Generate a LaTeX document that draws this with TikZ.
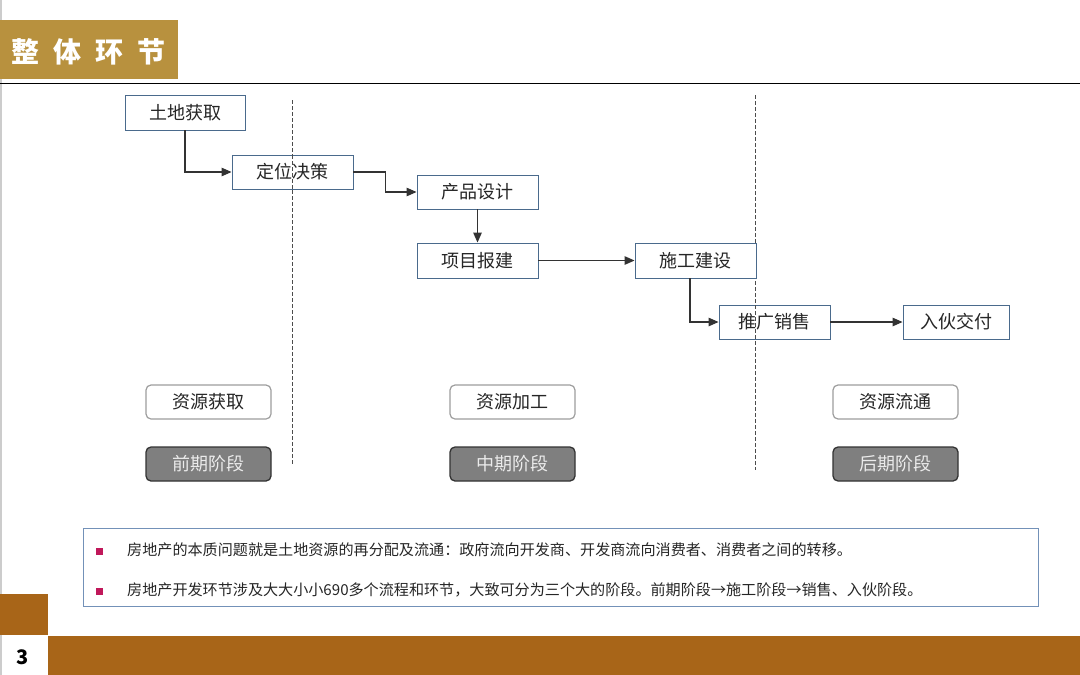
\documentclass[tikz,border=0pt]{standalone}
\usepackage{fontspec}
\setmainfont{Noto Sans CJK SC}
\usetikzlibrary{arrows.meta}
\definecolor{gold}{HTML}{B8913E}
\definecolor{brown}{HTML}{A86518}
\definecolor{boxline}{HTML}{4A6A8C}
\definecolor{txtbox}{HTML}{7391B8}
\definecolor{bullet}{HTML}{C0185A}
\definecolor{darkfill}{HTML}{7F7F7F}
\tikzset{
  flow/.style={draw=boxline, line width=0.9pt, fill=white, minimum height=34pt, inner sep=0pt, font=\fontsize{18}{20}\selectfont, text=black!85},
  res/.style={draw=black!38, line width=1.2pt, rounded corners=5pt, fill=white, minimum width=125pt, minimum height=34pt, inner sep=0pt, font=\fontsize{18}{20}\selectfont, text=black!85},
  stage/.style={draw=black!80, line width=1.3pt, rounded corners=5pt, fill=darkfill, minimum width=125pt, minimum height=34pt, inner sep=0pt, font=\fontsize{18}{20}\selectfont, text=black!8},
  conn/.style={draw=black!80, line width=1.2pt, -{Triangle[length=10pt,width=8.5pt]}},
  divider/.style={draw=black!70, line width=1pt, dash pattern=on 3.5pt off 2.5pt},
  bul/.style={fill=bullet, minimum size=7pt, inner sep=0pt},
  note/.style={anchor=west, inner sep=0pt, font=\fontsize{15.1}{17}\selectfont, text=black!85}
}
\begin{document}
\begin{tikzpicture}[x=1pt,y=-1pt]
\useasboundingbox (0,0) rectangle (1080,675);
\fill[white] (0,0) rectangle (1080,675);
\draw[black!20, line width=1.5pt] (0.75,0) -- (0.75,675);
% title
\fill[gold] (0,20) rectangle (178,79);
\node[text=white, font=\fontsize{28}{30}\selectfont\bfseries, inner sep=0pt] (title) at (89,52) {整\hspace{14pt}体\hspace{14pt}环\hspace{14pt}节};
\draw[black, line width=0.9pt] (0,83) -- (1080,83);
% dividers
\draw[divider] (292,100) -- (292,465);
\draw[divider] (755,95) -- (755,470);
% flow boxes
\node[flow, minimum width=120pt, minimum height=35pt] (td) at (185,112.5) {土地获取};
\node[flow, minimum width=121pt] (dw) at (292.5,172) {定位决策};
\node[flow, minimum width=121pt] (cp) at (477.5,192) {产品设计};
\node[flow, minimum width=121pt, minimum height=35pt] (xm) at (477.5,260.5) {项目报建};
\node[flow, minimum width=121pt, minimum height=35pt] (sg) at (695.5,260.5) {施工建设};
\node[flow, minimum width=111pt] (tg) at (774.5,322) {推广销售};
\node[flow, minimum width=106pt] (rh) at (956,322) {入伙交付};
% dashed dividers pass over boxes
\draw[divider] (292,155) -- (292,189);
\draw[divider] (755,305) -- (755,339);
% connectors
\draw[conn] (td.south) |- (dw.west);
\draw[conn] (dw.east) -- ++(32,0) |- (cp.west);
\draw[conn] (cp.south) -- (xm.north);
\draw[conn] (xm.east) -- (sg.west);
\draw[conn] ([xshift=-5.5pt]sg.south) |- (tg.west);
\draw[conn] (tg.east) -- (rh.west);
% resource / stage boxes
\node[res] (r1) at (208.5,402) {资源获取};
\node[res] (r2) at (512.5,402) {资源加工};
\node[res] (r3) at (895.5,402) {资源流通};
\node[stage] (s1) at (208.5,464) {前期阶段};
\node[stage] (s2) at (512.5,464) {中期阶段};
\node[stage] (s3) at (895.5,464) {后期阶段};
% note box
\draw[txtbox, line width=1pt] (83,528) rectangle (1038,606);
\node[bul] (b1) at (99.5,551) {};
\node[bul] (b2) at (99.5,591) {};
\node[note] (n1) at (127,550) {房地产的本质问题就是土地资源的再分配及流通：政府流向开发商、开发商流向消费者、消费者之间的转移。};
\node[note] (n2) at (127,590) {房地产开发环节涉及大大小小690多个流程和环节，大致可分为三个大的阶段。前期阶段→施工阶段→销售、入伙阶段。};
% footer
\fill[brown] (0,594) rectangle (48,635);
\fill[brown] (48,636) rectangle (1080,675);
\node[font=\fontsize{20}{22}\selectfont\bfseries, text=black, inner sep=0pt] (pg) at (23,657) {3};
\end{tikzpicture}
\end{document}
